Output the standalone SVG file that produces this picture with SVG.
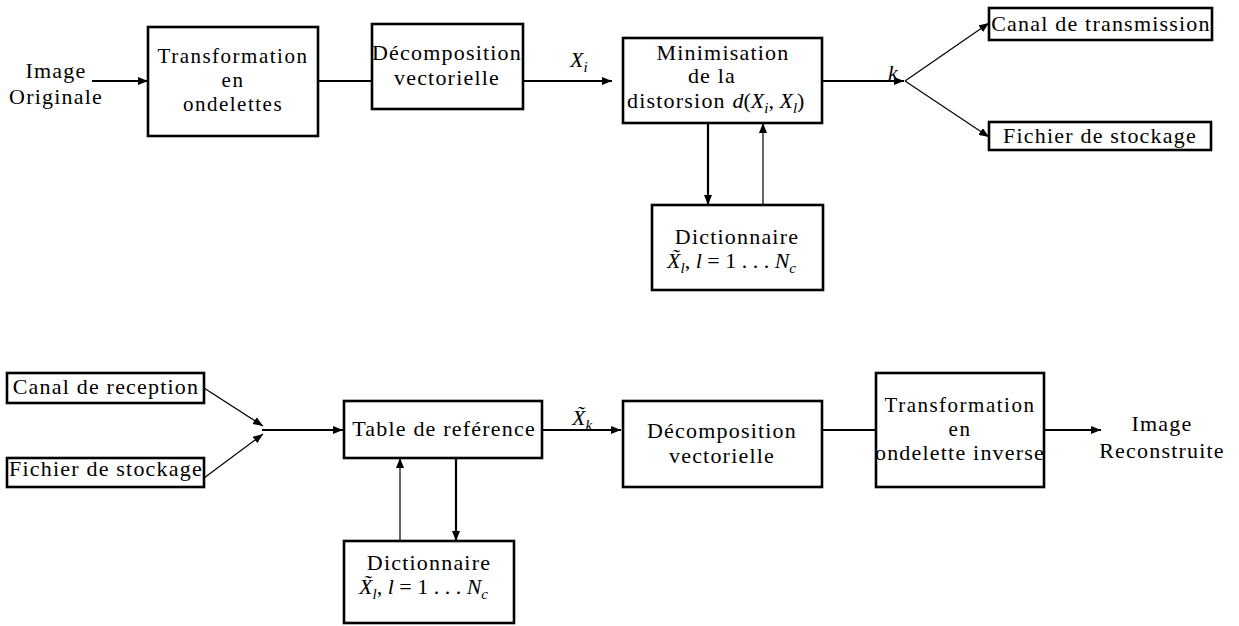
<svg xmlns="http://www.w3.org/2000/svg" width="1239" height="626" viewBox="0 0 1239 626">
  <style>
    text { font-family: "Liberation Serif", "DejaVu Serif", serif; fill: #000; }
    .box { fill: #fff; stroke: #000; stroke-width: 2.6; }
    .t { font-size: 22px; letter-spacing: 1.2px; text-anchor: middle; }
    .s { font-size: 21px; letter-spacing: 1.5px; }
    .m { font-size: 22px; }
    .i { font-style: italic; }
    .wire { stroke: #000; stroke-width: 2.2; fill: none; }
    .thin { stroke: #000; stroke-width: 1.2; fill: none; }
  </style>
  <defs>
    <marker id="arr" markerUnits="userSpaceOnUse" markerWidth="11" markerHeight="8" refX="10" refY="4" orient="auto">
      <path d="M0,0 L10,4 L0,8 Z" fill="#000"/>
    </marker>
  </defs>

  <!-- encoder chain -->
  <g id="input-image">
    <text class="t" x="56" y="78">Image</text>
    <text class="t" x="56" y="104">Originale</text>
  </g>
  <g id="wavelet-transform">
    <rect class="box" x="148" y="27" width="170" height="109"/>
    <text class="t s" x="233" y="63">Transformation</text>
    <text class="t s" x="233" y="87">en</text>
    <text class="t s" x="233" y="111">ondelettes</text>
  </g>
  <g id="vector-decomposition">
    <rect class="box" x="372" y="24" width="151" height="85"/>
    <text class="t" x="447" y="60">Décomposition</text>
    <text class="t" x="447" y="85">vectorielle</text>
  </g>
  <g id="distortion-min">
    <rect class="box" x="623" y="38" width="199" height="85"/>
    <text class="t" x="723" y="60">Minimisation</text>
    <text class="t" x="712" y="83">de la</text>
    <text class="m" x="627" y="108"><tspan letter-spacing="1.2">distorsion </tspan><tspan class="i">d</tspan>(<tspan class="i">X</tspan><tspan class="i" font-size="15" dy="5">i</tspan><tspan dy="-5">, </tspan><tspan class="i">X</tspan><tspan class="i" font-size="15" dy="5">l</tspan><tspan dy="-5">)</tspan></text>
  </g>
  <g id="dictionary-enc">
    <rect class="box" x="652" y="205" width="171" height="85"/>
    <text class="t" x="737" y="244">Dictionnaire</text>
    <text class="m" x="667" y="268"><tspan class="i">X̃</tspan><tspan class="i" font-size="15" dy="5">l</tspan><tspan dy="-5">, </tspan><tspan class="i">l</tspan> = 1 . . . <tspan class="i">N</tspan><tspan class="i" font-size="15" dy="5">c</tspan></text>
  </g>
  <g id="transmission-channel">
    <rect class="box" x="989" y="8" width="223" height="32"/>
    <text class="t" x="1101" y="31">Canal de transmission</text>
  </g>
  <g id="storage-out">
    <rect class="box" x="989" y="122" width="222" height="28"/>
    <text class="t" x="1100" y="143">Fichier de stockage</text>
  </g>

  <!-- decoder chain -->
  <g id="reception-channel">
    <rect class="box" x="7" y="373" width="197" height="30"/>
    <text class="t" x="106" y="394">Canal de reception</text>
  </g>
  <g id="storage-in">
    <rect class="box" x="7" y="458" width="197" height="29"/>
    <text class="t" x="106" y="476">Fichier de stockage</text>
  </g>
  <g id="lookup-table">
    <rect class="box" x="344" y="401" width="198" height="57"/>
    <text class="t" x="444" y="436">Table de reférence</text>
  </g>
  <g id="dictionary-dec">
    <rect class="box" x="344" y="541" width="170" height="82"/>
    <text class="t" x="429" y="570">Dictionnaire</text>
    <text class="m" x="359" y="594"><tspan class="i">X̃</tspan><tspan class="i" font-size="15" dy="5">l</tspan><tspan dy="-5">, </tspan><tspan class="i">l</tspan> = 1 . . . <tspan class="i">N</tspan><tspan class="i" font-size="15" dy="5">c</tspan></text>
  </g>
  <g id="vector-recomposition">
    <rect class="box" x="623" y="401" width="199" height="86"/>
    <text class="t" x="722" y="438">Décomposition</text>
    <text class="t" x="722" y="463">vectorielle</text>
  </g>
  <g id="inverse-transform">
    <rect class="box" x="876" y="373" width="168" height="114"/>
    <text class="t s" x="960" y="412">Transformation</text>
    <text class="t s" x="960" y="436">en</text>
    <text class="t" x="960" y="460">ondelette inverse</text>
  </g>
  <g id="output-image">
    <text class="t" x="1162" y="431">Image</text>
    <text class="t" x="1162" y="458">Reconstruite</text>
  </g>

  <!-- connectors -->
  <g id="connectors">
    <line class="wire" x1="92" y1="81" x2="148" y2="81" marker-end="url(#arr)"/>
    <line class="wire" x1="318" y1="81" x2="372" y2="81"/>
    <line class="wire" x1="523" y1="81" x2="612" y2="81" marker-end="url(#arr)"/>
    <line class="wire" x1="822" y1="81" x2="904" y2="81" marker-end="url(#arr)"/>
    <line class="thin" x1="905" y1="81" x2="989" y2="23" marker-end="url(#arr)"/>
    <line class="thin" x1="905" y1="81" x2="989" y2="137" marker-end="url(#arr)"/>
    <line class="wire" x1="708" y1="123" x2="708" y2="205" marker-end="url(#arr)"/>
    <line class="thin" x1="763" y1="205" x2="763" y2="123" stroke-width="1.6" marker-end="url(#arr)"/>

    <line class="thin" x1="204" y1="388" x2="263" y2="426" marker-end="url(#arr)"/>
    <line class="thin" x1="204" y1="478" x2="263" y2="434" marker-end="url(#arr)"/>
    <line class="wire" x1="262" y1="430" x2="343" y2="430" marker-end="url(#arr)"/>
    <line class="wire" x1="542" y1="430" x2="621" y2="430" marker-end="url(#arr)"/>
    <line class="wire" x1="822" y1="430" x2="876" y2="430"/>
    <line class="wire" x1="1044" y1="430" x2="1101" y2="430" marker-end="url(#arr)"/>
    <line class="thin" x1="400" y1="541" x2="400" y2="458" stroke-width="1.6" marker-end="url(#arr)"/>
    <line class="wire" x1="456" y1="458" x2="456" y2="541" marker-end="url(#arr)"/>

    <!-- connector labels -->
    <text class="m" x="570" y="67"><tspan class="i">X</tspan><tspan class="i" font-size="15" dy="5">i</tspan></text>
    <text class="m i" x="888" y="80" font-size="30">k</text>
    <text class="m" x="572" y="425"><tspan class="i">X̃</tspan><tspan class="i" font-size="15" dy="5">k</tspan></text>
  </g>
</svg>
